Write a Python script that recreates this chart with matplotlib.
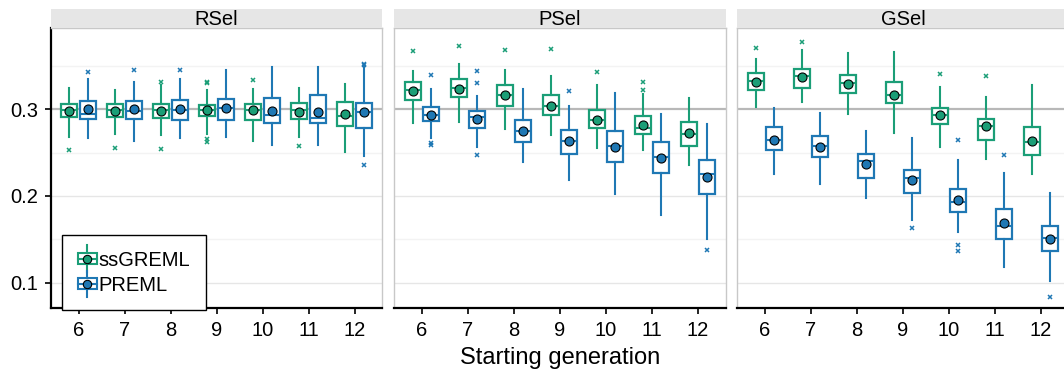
import matplotlib
matplotlib.use("Agg")
import matplotlib.pyplot as plt
from matplotlib.legend_handler import HandlerBase
from matplotlib.lines import Line2D
from matplotlib.patches import Rectangle

plt.rcParams['font.family'] = ['Liberation Sans', 'DejaVu Sans']

gens = [6, 7, 8, 9, 10, 11, 12]
panels = ["RSel", "PSel", "GSel"]
methods = ["ssGREML", "PREML"]
colors = ["#1b9e77", "#1f78b4"]

# RSel, ssGREML  (whisker low, q1, median, q3, whisker high, mean, outliers)
rsel_ss_lo = [0.268, 0.271, 0.270, 0.272, 0.264, 0.268, 0.251]
rsel_ss_q1 = [0.291, 0.291, 0.290, 0.292, 0.288, 0.289, 0.281]
rsel_ss_med = [0.299, 0.299, 0.299, 0.299, 0.299, 0.299, 0.292]
rsel_ss_q3 = [0.306, 0.306, 0.306, 0.305, 0.306, 0.307, 0.309]
rsel_ss_hi = [0.325, 0.322, 0.328, 0.322, 0.324, 0.325, 0.329]
rsel_ss_mean = [0.298, 0.298, 0.298, 0.299, 0.299, 0.297, 0.295]
rsel_ss_out = [[0.253], [0.255], [0.332, 0.254], [0.332, 0.330, 0.266, 0.262],
               [0.334], [0.258], []]

# RSel, PREML
rsel_pr_lo = [0.267, 0.263, 0.267, 0.268, 0.259, 0.259, 0.246]
rsel_pr_q1 = [0.289, 0.289, 0.288, 0.288, 0.284, 0.284, 0.279]
rsel_pr_med = [0.295, 0.298, 0.299, 0.302, 0.294, 0.290, 0.297]
rsel_pr_q3 = [0.310, 0.310, 0.311, 0.312, 0.313, 0.317, 0.307]
rsel_pr_hi = [0.335, 0.331, 0.335, 0.345, 0.349, 0.349, 0.349]
rsel_pr_mean = [0.300, 0.300, 0.300, 0.302, 0.298, 0.297, 0.297]
rsel_pr_out = [[0.343], [0.345], [0.345], [], [], [], [0.352, 0.351, 0.236]]

# PSel, ssGREML
psel_ss_lo = [0.284, 0.285, 0.277, 0.270, 0.255, 0.253, 0.236]
psel_ss_q1 = [0.311, 0.314, 0.304, 0.293, 0.278, 0.272, 0.258]
psel_ss_med = [0.322, 0.325, 0.317, 0.304, 0.288, 0.279, 0.272]
psel_ss_q3 = [0.332, 0.335, 0.328, 0.316, 0.299, 0.292, 0.285]
psel_ss_hi = [0.344, 0.352, 0.345, 0.338, 0.328, 0.318, 0.313]
psel_ss_mean = [0.321, 0.324, 0.316, 0.304, 0.288, 0.282, 0.273]
psel_ss_out = [[0.367], [0.373], [0.368], [0.370], [0.343], [0.332, 0.322], []]

# PSel, PREML
psel_pr_lo = [0.267, 0.256, 0.239, 0.218, 0.202, 0.178, 0.150]
psel_pr_q1 = [0.286, 0.279, 0.262, 0.249, 0.239, 0.227, 0.202]
psel_pr_med = [0.294, 0.291, 0.275, 0.263, 0.258, 0.245, 0.225]
psel_pr_q3 = [0.303, 0.298, 0.288, 0.276, 0.275, 0.262, 0.242]
psel_pr_hi = [0.324, 0.315, 0.324, 0.304, 0.319, 0.295, 0.283]
psel_pr_mean = [0.293, 0.289, 0.275, 0.263, 0.257, 0.244, 0.222]
psel_pr_out = [[0.340, 0.261, 0.259], [0.344, 0.330, 0.247], [], [0.321], [], [], [0.138]]

# GSel, ssGREML
gsel_ss_lo = [0.303, 0.308, 0.295, 0.273, 0.257, 0.243, 0.225]
gsel_ss_q1 = [0.322, 0.325, 0.319, 0.307, 0.283, 0.265, 0.247]
gsel_ss_med = [0.333, 0.338, 0.330, 0.316, 0.293, 0.281, 0.262]
gsel_ss_q3 = [0.342, 0.346, 0.340, 0.332, 0.302, 0.289, 0.280]
gsel_ss_hi = [0.358, 0.368, 0.365, 0.366, 0.326, 0.314, 0.328]
gsel_ss_mean = [0.332, 0.337, 0.329, 0.317, 0.293, 0.281, 0.264]
gsel_ss_out = [[0.371], [0.378], [], [], [0.341], [0.338], []]

# GSel, PREML
gsel_pr_lo = [0.225, 0.214, 0.198, 0.172, 0.158, 0.118, 0.102]
gsel_pr_q1 = [0.253, 0.245, 0.221, 0.203, 0.182, 0.150, 0.136]
gsel_pr_med = [0.265, 0.258, 0.240, 0.221, 0.193, 0.165, 0.151]
gsel_pr_q3 = [0.280, 0.269, 0.249, 0.230, 0.208, 0.185, 0.165]
gsel_pr_hi = [0.302, 0.296, 0.275, 0.267, 0.241, 0.226, 0.204]
gsel_pr_mean = [0.265, 0.256, 0.237, 0.218, 0.195, 0.169, 0.150]
gsel_pr_out = [[], [], [], [0.163], [0.265, 0.144, 0.136], [0.247], [0.084]]


def make_stats(lo, q1, med, q3, hi, mean, out):
    return [dict(whislo=a, q1=b, med=c, q3=d, whishi=e, mean=f, fliers=g)
            for a, b, c, d, e, f, g in zip(lo, q1, med, q3, hi, mean, out)]


series = {
    "RSel": [make_stats(rsel_ss_lo, rsel_ss_q1, rsel_ss_med, rsel_ss_q3, rsel_ss_hi, rsel_ss_mean, rsel_ss_out),
             make_stats(rsel_pr_lo, rsel_pr_q1, rsel_pr_med, rsel_pr_q3, rsel_pr_hi, rsel_pr_mean, rsel_pr_out)],
    "PSel": [make_stats(psel_ss_lo, psel_ss_q1, psel_ss_med, psel_ss_q3, psel_ss_hi, psel_ss_mean, psel_ss_out),
             make_stats(psel_pr_lo, psel_pr_q1, psel_pr_med, psel_pr_q3, psel_pr_hi, psel_pr_mean, psel_pr_out)],
    "GSel": [make_stats(gsel_ss_lo, gsel_ss_q1, gsel_ss_med, gsel_ss_q3, gsel_ss_hi, gsel_ss_mean, gsel_ss_out),
             make_stats(gsel_pr_lo, gsel_pr_q1, gsel_pr_med, gsel_pr_q3, gsel_pr_hi, gsel_pr_mean, gsel_pr_out)],
}


class BoxHandler(HandlerBase):
    # small boxplot glyph for the legend
    def create_artists(self, legend, orig_handle, xdescent, ydescent,
                       width, height, fontsize, trans):
        c = orig_handle.get_color()
        cx = width / 2 - xdescent
        cy = height / 2 - ydescent
        bw, bh = width * 0.9, height * 0.7
        whisk = Line2D([cx, cx], [cy - height * 0.85, cy + height * 0.85],
                       color=c, lw=1.5, transform=trans)
        rect = Rectangle((cx - bw / 2, cy - bh / 2), bw, bh, facecolor="white",
                         edgecolor=c, lw=1.5, transform=trans)
        med = Line2D([cx - bw / 2, cx + bw / 2], [cy, cy], color=c, lw=1.5, transform=trans)
        dot = Line2D([cx], [cy], marker="o", markersize=6, markerfacecolor=c,
                     markeredgecolor="black", markeredgewidth=0.8, transform=trans)
        return [whisk, rect, med, dot]


W, H = 1064, 376
fig = plt.figure(figsize=(W / 100, H / 100), dpi=100)

lefts = [51, 394.3, 737.4]
pw = 331.2
ybot, ytop = 308.3, 28.3
strip_top = 9.3

for i, name in enumerate(panels):
    ax = fig.add_axes([lefts[i] / W, (H - ybot) / H, pw / W, (ybot - ytop) / H])
    for y in [0.15, 0.25, 0.35]:
        ax.axhline(y, color="#f3f3f3", lw=1, zorder=0)
    for y in [0.1, 0.2]:
        ax.axhline(y, color="#e6e6e6", lw=1, zorder=0)
    ax.axhline(0.3, color="#b8b8b8", lw=1.6, zorder=0.5)

    for j, m in enumerate(methods):
        c = colors[j]
        pos = [g + (-0.2 if j == 0 else 0.2) for g in gens]
        ax.bxp(series[name][j], positions=pos, widths=0.35, patch_artist=True,
               showmeans=True, showcaps=False,
               boxprops=dict(facecolor="white", edgecolor=c, linewidth=1.6),
               whiskerprops=dict(color=c, linewidth=1.5),
               medianprops=dict(color=c, linewidth=1.5),
               meanprops=dict(marker="o", markerfacecolor=c, markeredgecolor="black",
                              markersize=6.5, markeredgewidth=0.8),
               flierprops=dict(marker="x", markeredgecolor=c, markersize=3.5,
                               markeredgewidth=1.1))

    ax.set_xlim(5.4, 12.6)
    ax.set_ylim(0.0704, 0.3935)
    ax.set_xticks(gens)
    ax.set_xticklabels([str(g) for g in gens])
    ax.tick_params(axis="both", labelsize=14.5, length=4, width=1.2, color="black", pad=5)
    for s in ["top", "right", "left"]:
        ax.spines[s].set_color("#c8c8c8")
        ax.spines[s].set_linewidth(1)
    ax.spines["bottom"].set_color("black")
    ax.spines["bottom"].set_linewidth(1.6)
    if i == 0:
        ax.spines["left"].set_color("black")
        ax.spines["left"].set_linewidth(1.6)
        ax.set_yticks([0.1, 0.2, 0.3])
        ax.set_yticklabels(["0.1", "0.2", "0.3"])
        proxies = [Line2D([], [], color=c) for c in colors]
        leg = ax.legend(proxies, methods, handler_map={Line2D: BoxHandler()},
                        loc="lower left", bbox_to_anchor=(0.032, -0.005),
                        borderaxespad=0, fontsize=14.5, handlelength=1.05,
                        handleheight=0.8, handletextpad=0.05, labelspacing=0.3,
                        borderpad=0.75, fancybox=False, framealpha=1,
                        edgecolor="black")
        leg.get_frame().set_linewidth(1)
    else:
        ax.set_yticks([])

    # facet strip
    sax = fig.add_axes([lefts[i] / W, (H - ytop) / H, pw / W, (ytop - strip_top) / H])
    sax.set_facecolor("#e6e6e6")
    sax.set_xticks([])
    sax.set_yticks([])
    for s in sax.spines.values():
        s.set_visible(False)
    sax.text(0.5, 0.45, name, ha="center", va="center", fontsize=14.5, transform=sax.transAxes)

fig.text(560 / W, (H - 358) / H, "Starting generation", ha="center", va="center", fontsize=17)

fig.savefig("out.png", dpi=100)
